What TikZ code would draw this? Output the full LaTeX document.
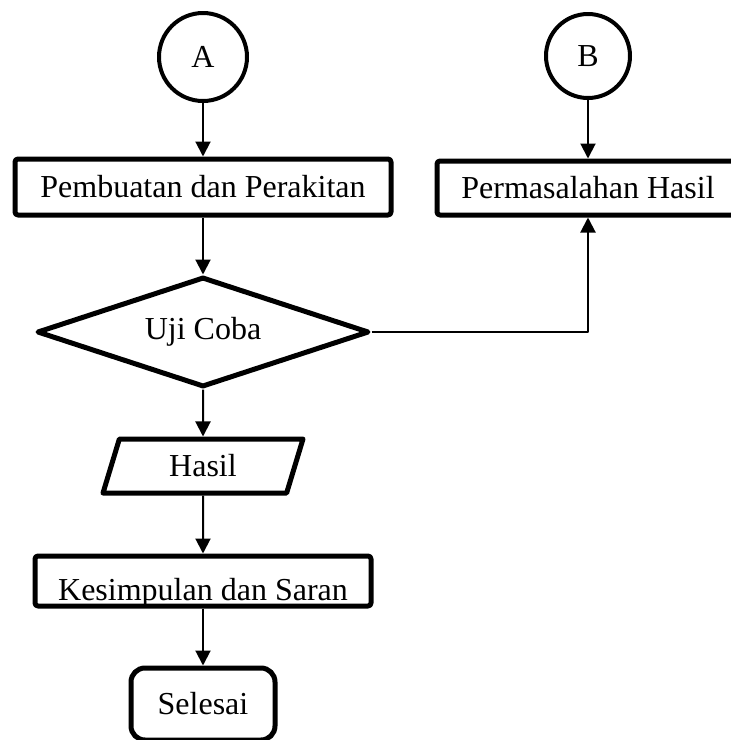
\documentclass[tikz,border=0pt]{standalone}
\usepackage{fontspec}
\setmainfont{Liberation Serif}
\usetikzlibrary{shapes.geometric,arrows.meta}

\tikzset{
  connector/.style={circle, draw, line width=2pt, minimum size=44pt, inner sep=0pt},
  procbox/.style={rectangle, draw, line width=2.5pt, rounded corners=1.5pt, inner sep=0pt},
  decision/.style={diamond, draw, line width=2.5pt, inner sep=0pt, aspect=2.9},
  iobox/.style={trapezium, trapezium left angle=54, trapezium right angle=126,
    trapezium stretches body, draw, line width=2.5pt, inner sep=0pt},
  endbox/.style={rectangle, draw, line width=2.5pt, rounded corners=7pt},
  flow/.style={line width=1pt, -{Triangle[width=7.5pt,length=7.5pt]}}
}

\begin{document}
\begin{tikzpicture}[x=0.5pt, y=-0.5pt, font=\fontsize{16}{19}\selectfont, line join=round]
  \useasboundingbox (0,0) rectangle (730,740);

  % start connectors
  \node[connector] (A) at (203,57) {A};
  \node[connector, minimum size=42pt] (B) at (588,56) {B};

  % main column
  \node[procbox, minimum width=188pt, minimum height=28pt] (buat) at (203,187) {Pembuatan dan Perakitan};
  \node[decision, minimum width=166pt, minimum height=55pt] (uji) at (203,332) {Uji Coba};
  \node[iobox, minimum width=100pt, minimum height=27pt] (hasil) at (203,466) {Hasil};
  \node[procbox, minimum width=168pt, minimum height=25pt] (simpul) at (203,581) {};
  \node[anchor=base] (simpultext) at (203,600) {Kesimpulan dan Saran};
  \node[endbox, minimum width=72pt, minimum height=36pt] (selesai) at (203,704) {Selesai};

  % side branch
  \node[procbox, minimum width=151pt, minimum height=27pt] (masalah) at (588,188) {Permasalahan Hasil};

  % flow lines
  \draw[flow] (A.south) -- (buat.north);
  \draw[flow] (buat.south) -- (uji.north);
  \draw[flow] (uji.south) -- (hasil.north);
  \draw[flow] (hasil.south) -- (simpul.north);
  \draw[flow] (simpul.south) -- (selesai.north);
  \draw[flow] (B.south) -- (masalah.north);
  \draw[flow] (uji.east) -| (masalah.south);

\end{tikzpicture}
\end{document}
